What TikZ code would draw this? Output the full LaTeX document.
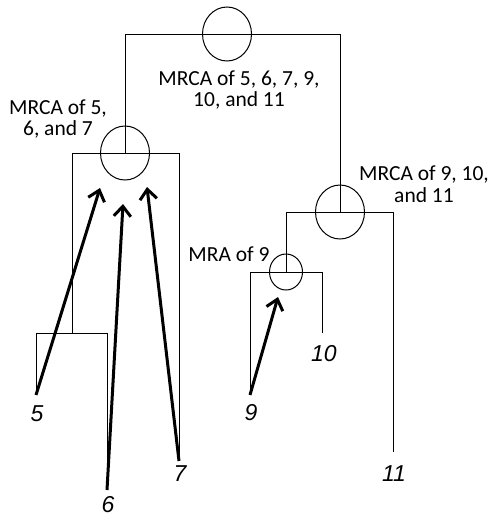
\documentclass[tikz,border=0pt]{standalone}
\usepackage{fontspec}
\setmainfont{Carlito}
\newfontfamily\leaffont{Liberation Sans}
\usetikzlibrary{shapes.geometric,arrows.meta}
\begin{document}
\begin{tikzpicture}[x=1pt, y=-1pt, line width=1pt,
    anc/.style={ellipse, draw, inner sep=0pt, minimum width=49pt, minimum height=54pt},
    mrcalabel/.style={align=center, inner sep=0pt, font=\fontsize{21.5}{21.5}\selectfont},
    leaflabel/.style={inner sep=0pt, font=\leaffont\itshape\fontsize{23}{23}\selectfont},
    pointer/.style={line width=3pt, -{Straight Barb[length=10pt,width=17pt]}}]
        \useasboundingbox (0,0) rectangle (494,517);
        % Ancestors (top to bottom)
        \node (root) at (227,34) [anc] {};
        \node (mrcaA) at (125,153) [anc] {};
        \node (mrcaB) at (340,212) [anc] {};
        \node (mra9) at (286,272) [anc, minimum width=33pt, minimum height=36pt] {};
        \coordinate (n56) at (72,333);
        % Leaf tips
        \coordinate (l5) at (36,395);
        \coordinate (l6) at (107,490);
        \coordinate (l7) at (179,461);
        \coordinate (l9) at (250,395);
        \coordinate (l10) at (322,333);
        \coordinate (l11) at (393,452);
        % Arrow heads
        \coordinate (h5) at (100,188);
        \coordinate (h6) at (123,204);
        \coordinate (h7) at (147,187);
        \coordinate (h9) at (278,297);
        % Labels
        \node (troot) at (239,90) [mrcalabel] {MRCA of 5, 6, 7, 9,\\10, and 11};
        \node (tA) at (58,119) [mrcalabel] {MRCA of 5,\\6, and 7};
        \node (tB) at (424,184) [mrcalabel] {MRCA of 9, 10,\\and 11};
        \node (t9) at (229,254) [mrcalabel] {MRA of 9};
        \node (x5) at (37,414) [leaflabel] {5};
        \node (x6) at (108,505) [leaflabel] {6};
        \node (x7) at (180,474) [leaflabel] {7};
        \node (x9) at (251,413) [leaflabel] {9};
        \node (x10) at (324,354) [leaflabel] {10};
        \node (x11) at (394,474) [leaflabel] {11};
        % Edges
        \draw (root.center) -| (mrcaA.center);
        \draw (root.center) -| (mrcaB.center);
        \draw (mrcaA.center) -| (n56);
        \draw (mrcaA.center) -| (l7);
        \draw (n56) -| (l5);
        \draw (n56) -| (l6);
        \draw (mrcaB.center) -| (mra9.center);
        \draw (mrcaB.center) -| (l11);
        \draw (mra9.center) -| (l9);
        \draw (mra9.center) -| (l10);
        % Pointers
        \draw[pointer] (l5) -- (h5);
        \draw[pointer] (l6) -- (h6);
        \draw[pointer] (l7) -- (h7);
        \draw[pointer] (l9) -- (h9);
      \end{tikzpicture}
\end{document}
